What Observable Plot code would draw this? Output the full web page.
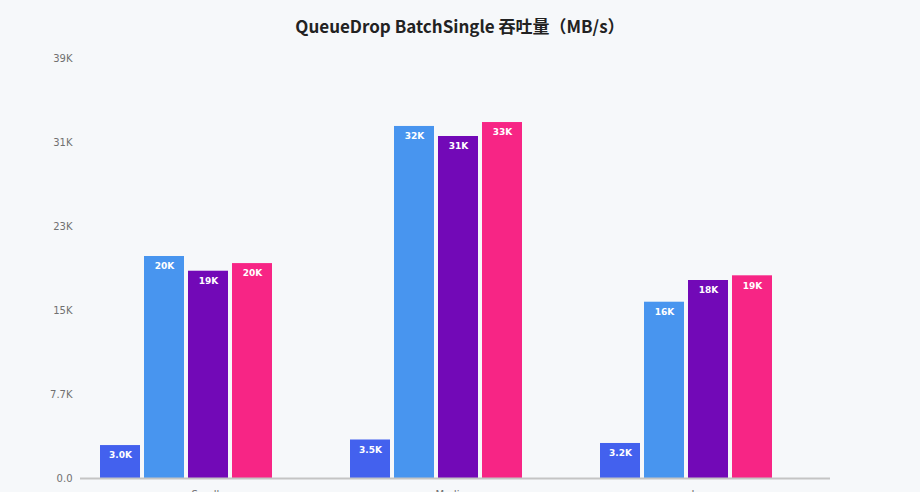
<!DOCTYPE html>
<html>
<head>
<meta charset="utf-8">
<script src="https://cdn.jsdelivr.net/npm/d3@7"></script>
<script src="https://cdn.jsdelivr.net/npm/@observablehq/plot@0.6"></script>
<style>
  html, body { margin: 0; padding: 0; background: #f6f8fa; }
  #title { height: 44px; line-height: 52px; text-align: center; font-family: "Noto Sans CJK SC", sans-serif; font-weight: 700; font-size: 17px; color: #222; }
  #chart { width: 920px; }
  #legend { font-family: "DejaVu Sans", sans-serif; font-size: 11px; text-align: center; color: #444; }
</style>
</head>
<body>
<div id="title">QueueDrop BatchSingle 吞吐量（MB/s）</div>
<div id="chart"></div>
<div id="legend"></div>
<script>
const groups = ["Small", "Medium", "Large"];
const series = ["Series 1", "Series 2", "Series 3", "Series 4"];
const colors = ["#4361ee", "#4895ef", "#7209b7", "#f72585"];
// values per group, in series order (MB/s)
const smallValues  = [3020, 20350, 19000, 19700];
const mediumValues = [3530, 32270, 31350, 32630];
const largeValues  = [3210, 16160, 18150, 18580];
const yTicks = [0, 7700, 15400, 23100, 30800, 38500];
const yMax = 38500;

const fmt = v => d3.format(".2s")(v).replace("k", "K");

const byGroup = {Small: smallValues, Medium: mediumValues, Large: largeValues};
const data = groups.flatMap(g => series.map((s, i) => ({group: g, series: s, value: byGroup[g][i]})));

const chart = Plot.plot({
  width: 920,
  height: 474,
  marginTop: 14,
  marginBottom: 40,
  marginLeft: 80,
  marginRight: 90,
  style: {background: "transparent", fontFamily: "DejaVu Sans, sans-serif", fontSize: "10px", color: "#707070"},
  fx: {domain: groups, padding: 0, label: null, axis: "bottom", tickSize: 0, tickPadding: 12},
  x: {domain: series, range: [98, 274], padding: 0, axis: null},
  y: {domain: [0, yMax], ticks: yTicks, tickFormat: fmt, label: null, tickSize: 0, tickPadding: 8},
  color: {domain: series, range: colors},
  marks: [
    Plot.barY(data, {fx: "group", x: "series", y: "value", fill: "series", insetLeft: 2, insetRight: 2}),
    Plot.text(data, {fx: "group", x: "series", y: "value", text: d => fmt(d.value), dy: 10, fill: "white", fontWeight: "bold", fontSize: 9}),
    Plot.ruleY([0], {stroke: "#c4c4c4", strokeWidth: 2})
  ]
});
document.getElementById("chart").appendChild(chart);

const legend = Plot.legend({color: {domain: series, range: colors}});
document.getElementById("legend").appendChild(legend);
</script>
</body>
</html>
